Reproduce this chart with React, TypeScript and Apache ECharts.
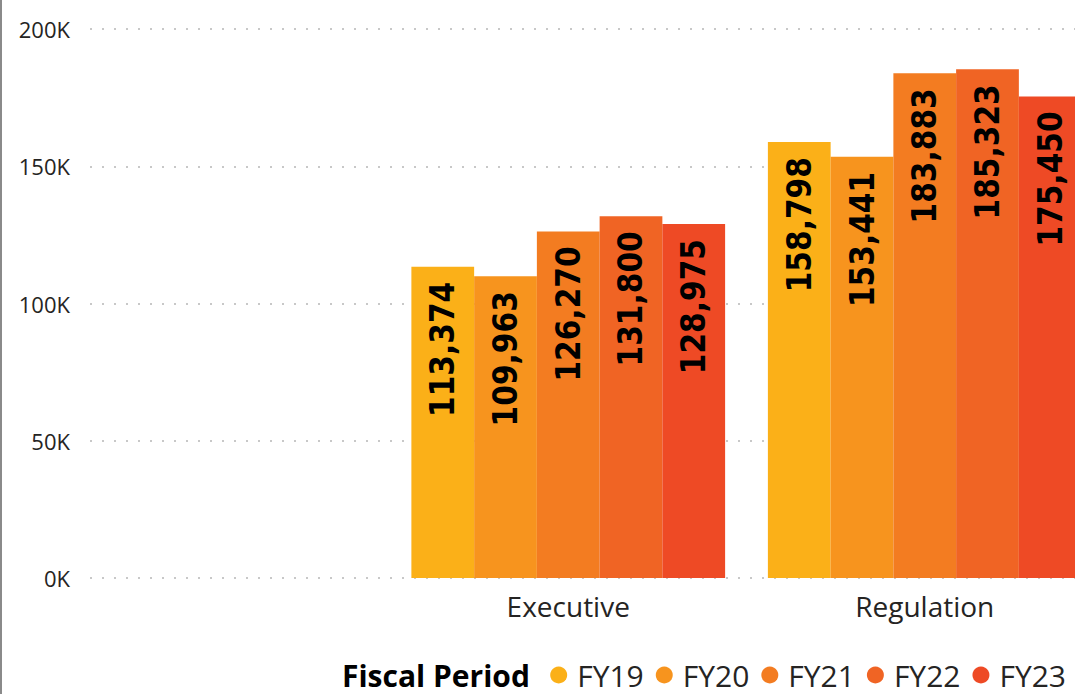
import React, { useEffect, useRef } from "react";
import * as echarts from "echarts";

const categories = ["", "Executive", "Regulation"];
const periods = ["FY19", "FY20", "FY21", "FY22", "FY23"];
const fy19 = [null, 113374, 158798];
const fy20 = [null, 109963, 153441];
const fy21 = [null, 126270, 183883];
const fy22 = [null, 131800, 185323];
const fy23 = [null, 128975, 175450];
const seriesValues = [fy19, fy20, fy21, fy22, fy23];
const colors = ["#FBB018", "#F7941E", "#F37C21", "#F06424", "#EE4A25"];
const yTicks = [0, 50000, 100000, 150000, 200000];

const uiFont = "'Open Sans', 'Noto Sans', sans-serif";
const labelFont = "'DejaVu Sans Condensed', sans-serif";

const EXTRA = 28; // plot extends beyond the visible right edge

export default function App() {
  const ref = useRef<HTMLDivElement>(null);
  useEffect(() => {
    if (!ref.current) return;
    const chart = echarts.init(ref.current, undefined, { renderer: "svg" });
    chart.setOption({
      animation: false,
      grid: [
        { left: 90, right: EXTRA, top: 29, bottom: 116 },
        { left: 33.5, right: 0, top: 29, bottom: 116 },
      ],
      legend: {
        data: periods,
        right: 4 + EXTRA,
        top: 655,
        icon: "circle",
        itemWidth: 17,
        itemHeight: 17,
        itemGap: 12,
        textStyle: { fontFamily: uiFont, fontSize: 30, color: "#252423", padding: [0, 0, 0, 5] },
      },
      graphic: [
        {
          type: "text",
          x: 342,
          y: 675,
          style: {
            text: "Fiscal Period",
            fontFamily: uiFont,
            fontWeight: "bold",
            fontSize: 30,
            fill: "#000",
            verticalAlign: "middle",
          },
        },
        {
          type: "line",
          shape: { x1: 1, y1: 0, x2: 1, y2: 694 },
          style: { stroke: "#8a8a8a", lineWidth: 2 },
        },
      ],
      xAxis: [
        { type: "category", gridIndex: 0, data: categories, show: false },
        {
          type: "category",
          gridIndex: 1,
          data: categories,
          axisLine: { show: false },
          axisTick: { show: false },
          axisLabel: { fontFamily: uiFont, fontSize: 28, color: "#252423", margin: 14 },
        },
      ],
      yAxis: [
        {
          type: "value",
          gridIndex: 0,
          min: 0,
          max: 200000,
          interval: 50000,
          axisLine: { show: false },
          axisTick: { show: false },
          axisLabel: {
            fontFamily: uiFont,
            fontSize: 22,
            color: "#252423",
            margin: 20,
            formatter: (v: number) => (yTicks.includes(v) ? `${v / 1000}K` : ""),
          },
          splitLine: { lineStyle: { color: "#c8c8c8", width: 2, type: [2, 10] } },
        },
        { type: "value", gridIndex: 1, min: 0, max: 200000, show: false },
      ],
      series: periods.map((name, i) => ({
        name,
        type: "bar",
        xAxisIndex: 1,
        yAxisIndex: 1,
        data: seriesValues[i],
        barGap: "0%",
        barCategoryGap: "12%",
        itemStyle: { color: colors[i] },
        label: {
          show: true,
          position: "insideTop",
          rotate: 90,
          align: "right",
          verticalAlign: "middle",
          distance: 15,
          fontFamily: labelFont,
          fontWeight: "bold",
          fontSize: 33,
          color: "#000",
          formatter: (p: any) => Number(p.value).toLocaleString("en-US"),
        },
      })),
    });
    return () => chart.dispose();
  }, []);
  return (
    <div style={{ position: "fixed", left: 0, top: 0, width: 1075, height: 694, overflow: "hidden", background: "#fff" }}>
      <div ref={ref} style={{ width: 1075 + EXTRA, height: 694 }} />
    </div>
  );
}
